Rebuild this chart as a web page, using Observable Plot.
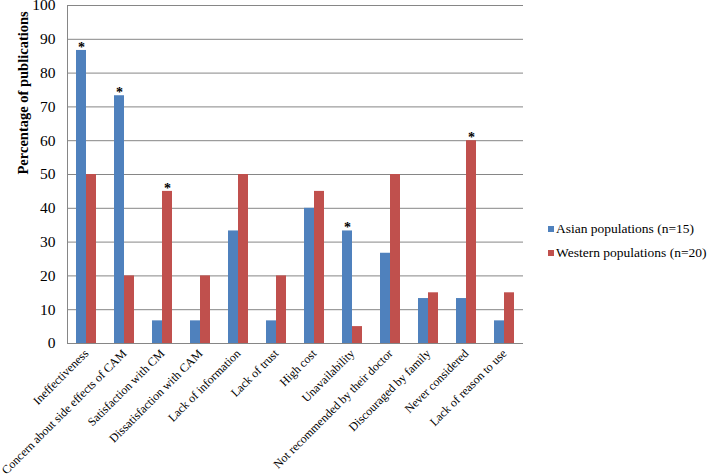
<!DOCTYPE html>
<html>
<head>
<meta charset="utf-8">
<script src="https://cdn.jsdelivr.net/npm/d3@7"></script>
<script src="https://cdn.jsdelivr.net/npm/@observablehq/plot@0.6"></script>
<style>
  html, body { margin: 0; padding: 0; background: #fff; }
  #wrap { position: relative; width: 709px; height: 476px; font-family: "Liberation Serif", "Times New Roman", serif; }
  #legend { position: absolute; left: 548px; top: 217px; font-size: 13.5px; color: #000; line-height: 24px; white-space: nowrap; }
  #legend .sw { display: inline-block; width: 6px; height: 6px; margin-right: 2px; vertical-align: 1px; }
</style>
</head>
<body>
<div id="wrap"><div id="legend"></div></div>
<script>
const categories = [
  "Ineffectiveness",
  "Concern about side effects of CAM",
  "Satisfaction with CM",
  "Dissatisfaction with CAM",
  "Lack of information",
  "Lack of trust",
  "High cost",
  "Unavailability",
  "Not recommended by their doctor",
  "Discouraged by family",
  "Never considered",
  "Lack of reason to use"
];
const series = ["Asian populations (n=15)", "Western populations (n=20)"];
const asian   = [86.7, 73.3, 6.7, 6.7, 33.3, 6.7, 40, 33.3, 26.7, 13.3, 13.3, 6.7];
const western = [50, 20, 45, 20, 50, 20, 45, 5, 50, 15, 60, 15];
const asianStar   = [true, true, false, false, false, false, false, true, false, false, false, false];
const westernStar = [false, false, true, false, false, false, false, false, false, false, true, false];
const yTicks = [0, 10, 20, 30, 40, 50, 60, 70, 80, 90, 100];
const colors = ["#4F81BD", "#C0504D"];
const yLabel = "Percentage of publications";

const rows = categories.flatMap((c, i) => [
  {cat: c, series: series[0], value: asian[i], star: asianStar[i]},
  {cat: c, series: series[1], value: western[i], star: westernStar[i]}
]);

const serif = "'Liberation Serif', 'Times New Roman', serif";
const chart = Plot.plot({
  width: 709,
  height: 476,
  marginLeft: 62,
  marginRight: 181,
  marginTop: 5,
  marginBottom: 133,
  style: {fontFamily: serif, color: "#000", background: "#fff", overflow: "visible"},
  fx: {domain: categories, padding: 0},
  x: {domain: series, paddingInner: 0, paddingOuter: 0.76, axis: null},
  y: {domain: [0, 100]},
  color: {domain: series, range: colors},
  marks: [
    Plot.ruleY(yTicks, {stroke: "#868686", strokeWidth: 1}),
    Plot.barY(rows, {fx: "cat", x: "series", y: "value", fill: "series"}),
    Plot.text(rows.filter(d => d.star), {fx: "cat", x: "series", y: "value", text: () => "*", fontSize: 14, fontWeight: "bold", dy: -3}),
    Plot.frame({anchor: "left", stroke: "#868686", facet: "super"}),
    Plot.axisY({ticks: yTicks, tickSize: 0, tickPadding: 12, fontSize: 15.5, fontFamily: serif, label: null}),
    Plot.axisFx({anchor: "bottom", tickRotate: -45, tickSize: 0, tickPadding: 8, fontSize: 12, fontFamily: serif, label: null}),
    Plot.text([yLabel], {frameAnchor: "left", rotate: -90, dx: -44, fontSize: 14.5, fontWeight: "bold", fontFamily: serif, facet: "super"})
  ]
});
document.getElementById("wrap").prepend(chart);

const legend = document.getElementById("legend");
series.forEach((s, i) => {
  const row = document.createElement("div");
  const sw = document.createElement("span");
  sw.className = "sw";
  sw.style.background = colors[i];
  row.appendChild(sw);
  row.appendChild(document.createTextNode(s));
  legend.appendChild(row);
});
</script>
</body>
</html>
